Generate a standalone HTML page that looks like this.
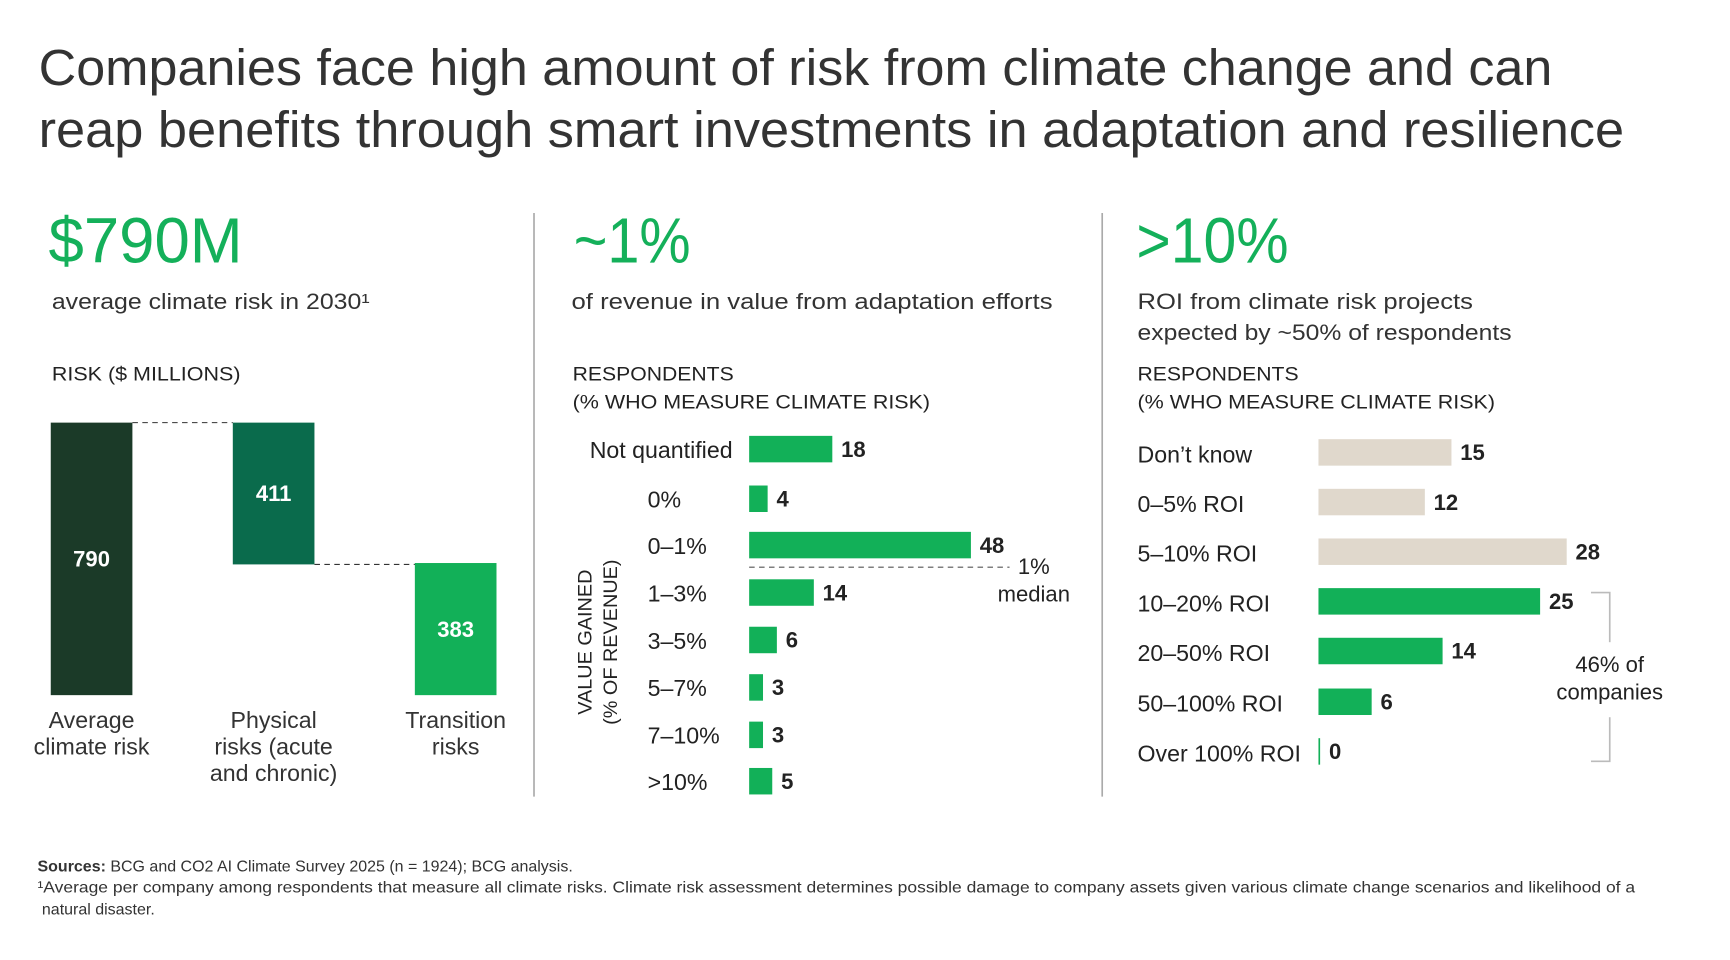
<!DOCTYPE html>
<html><head><meta charset="utf-8"><style>
html,body{margin:0;padding:0;background:#fff;}
svg{display:block;font-family:"Liberation Sans",sans-serif;}
</style></head><body>
<svg id="chart" width="1730" height="960" viewBox="0 0 1568 870" xmlns="http://www.w3.org/2000/svg">
<rect width="1568" height="870" fill="#fff"/>
<g fill="#333" font-size="46">
<text x="35" y="77" textLength="1372" lengthAdjust="spacingAndGlyphs">Companies face high amount of risk from climate change and can</text>
<text x="35" y="133" textLength="1437" lengthAdjust="spacingAndGlyphs">reap benefits through smart investments in adaptation and resilience</text>
</g>
<line x1="484" y1="193" x2="484" y2="722" stroke="#aaa" stroke-width="1.5"/>
<line x1="999" y1="193" x2="999" y2="722" stroke="#aaa" stroke-width="1.5"/>

<g>
<text x="44" y="238" font-size="58" fill="#14b05a" textLength="176" lengthAdjust="spacingAndGlyphs">$790M</text>
<text x="47" y="280" font-size="20" fill="#333" textLength="288" lengthAdjust="spacingAndGlyphs">average climate risk in 2030¹</text>
<text x="47" y="345" font-size="18" fill="#222" textLength="171" lengthAdjust="spacingAndGlyphs">RISK ($ MILLIONS)</text>
</g>
<g>
<text x="520" y="238" font-size="58" fill="#14b05a" textLength="106" lengthAdjust="spacingAndGlyphs">~1%</text>
<text x="518" y="280" font-size="20" fill="#333" textLength="436" lengthAdjust="spacingAndGlyphs">of revenue in value from adaptation efforts</text>
<text x="519" y="345" font-size="18" fill="#222" textLength="146" lengthAdjust="spacingAndGlyphs">RESPONDENTS</text>
<text x="519" y="370" font-size="18" fill="#222" textLength="324" lengthAdjust="spacingAndGlyphs">(% WHO MEASURE CLIMATE RISK)</text>
</g>
<g>
<text x="1030" y="238" font-size="58" fill="#14b05a" textLength="138" lengthAdjust="spacingAndGlyphs">&gt;10%</text>
<text x="1031" y="280" font-size="20" fill="#333" textLength="304" lengthAdjust="spacingAndGlyphs">ROI from climate risk projects</text>
<text x="1031" y="308" font-size="20" fill="#333" textLength="339" lengthAdjust="spacingAndGlyphs">expected by ~50% of respondents</text>
<text x="1031" y="345" font-size="18" fill="#222" textLength="146" lengthAdjust="spacingAndGlyphs">RESPONDENTS</text>
<text x="1031" y="370" font-size="18" fill="#222" textLength="324" lengthAdjust="spacingAndGlyphs">(% WHO MEASURE CLIMATE RISK)</text>
</g>
<g id="wf"></g>
<g id="mid"></g>
<g id="roi"></g>
<g font-size="18" fill="#222">
<text transform="translate(536,582) rotate(-90)" text-anchor="middle">VALUE GAINED</text>
<text transform="translate(559,582) rotate(-90)" text-anchor="middle">(% OF REVENUE)</text>
</g>
<g font-size="14.5" fill="#333">
<text x="34" y="790"><tspan font-weight="bold">Sources:</tspan> BCG and CO2 AI Climate Survey 2025 (n = 1924); BCG analysis.</text>
<text x="34" y="809" textLength="1448" lengthAdjust="spacingAndGlyphs">¹Average per company among respondents that measure all climate risks. Climate risk assessment determines possible damage to company assets given various climate change scenarios and likelihood of a</text>
<text x="38" y="829">natural disaster.</text>
</g>
<script>
const NS="http://www.w3.org/2000/svg";
function mk(p,t,a,txt){const e=document.createElementNS(NS,t);for(const k in a)e.setAttribute(k,a[k]);if(txt!==undefined)e.textContent=txt;p.appendChild(e);return e;}

// Waterfall data
const wfCategories=[["Average","climate risk"],["Physical","risks (acute","and chronic)"],["Transition","risks"]];
const wfValues=[790,411,383];
const wfColors=["#1b3a28","#0a6b4c","#12b058"];
const wfY=v=>630-v*(247/790);
const wfX=[46,211,376], wfW=74;
const wf=document.getElementById('wf');
let base=[0,wfValues[0]-wfValues[1],0];
for(let i=0;i<3;i++){
  const top=i==0?wfValues[0]:(i==1?wfValues[0]:wfValues[2]);
  const bot=i==1?wfValues[0]-wfValues[1]:0;
  const r=mk(wf,'rect',{x:wfX[i],y:wfY(top),width:wfW,height:wfY(bot)-wfY(top),fill:wfColors[i]});
  
  
  const t=mk(wf,'text',{x:wfX[i]+wfW/2,y:(wfY(top)+wfY(bot))/2+7,'text-anchor':'middle','font-size':20,'font-weight':'bold',fill:'#fff'},wfValues[i]);
  
  
  wfCategories[i].forEach((s,j)=>{const l=mk(wf,'text',{x:wfX[i]+wfW/2,y:660+j*24,'text-anchor':'middle','font-size':21,fill:'#333'},s);
    
    });
}
const d1=mk(wf,'line',{x1:120,y1:wfY(wfValues[0]),x2:211,y2:wfY(wfValues[0]),stroke:'#333','stroke-dasharray':'5,4'});


const d2=mk(wf,'line',{x1:285,y1:wfY(wfValues[0]-wfValues[1]),x2:376,y2:wfY(wfValues[0]-wfValues[1]),stroke:'#333','stroke-dasharray':'5,4'});



// Middle chart
const midCategories=["Not quantified","0%","0–1%","1–3%","3–5%","5–7%","7–10%",">10%"];
const midValues=[18,4,48,14,6,3,3,5];
const midRowY=[407,452,494,537,580,623,666,708];
const midX=v=>679+v*(201/48);
const mid=document.getElementById('mid');
midCategories.forEach((c,i)=>{
  const y=midRowY[i];
  const l=mk(mid,'text',{x:i==0?664:587,y:y+8,'text-anchor':i==0?'end':'start','font-size':21,fill:'#222'},c);
  
  
  const r=mk(mid,'rect',{x:679,y:y-12,width:midX(midValues[i])-679,height:24,fill:'#12b058'});
  
  
  const t=mk(mid,'text',{x:midX(midValues[i])+8,y:y+7,'font-size':20,'font-weight':'bold',fill:'#222'},midValues[i]);
  
  
});
const med=mk(mid,'line',{x1:679,y1:514,x2:915,y2:514,stroke:'#555','stroke-dasharray':'5,4'});


const m1=mk(mid,'text',{x:937,y:520,'text-anchor':'middle','font-size':20,fill:'#222'},'1%');


const m2=mk(mid,'text',{x:937,y:545,'text-anchor':'middle','font-size':20,fill:'#222'},'median');



// ROI chart
const roiCategories=["Don’t know","0–5% ROI","5–10% ROI","10–20% ROI","20–50% ROI","50–100% ROI","Over 100% ROI"];
const roiValues=[15,12,28,25,14,6,0];
const roiRowY=[410,455,500,545,590,636,681];
const roiX=v=>1195+v*(225/28);
const roi=document.getElementById('roi');
roiCategories.forEach((c,i)=>{
  const y=roiRowY[i];
  const l=mk(roi,'text',{x:1031,y:y+9,'font-size':21,fill:'#222'},c);
  
  
  const w=Math.max(roiX(roiValues[i])-1195,1.5);
  const r=mk(roi,'rect',{x:1195,y:y-12,width:w,height:24,fill:i<3?'#e0d8cc':'#12b058'});
  
  
  const t=mk(roi,'text',{x:1195+w+8,y:y+7,'font-size':20,'font-weight':'bold',fill:'#222'},roiValues[i]);
  
  
});
const br=mk(roi,'path',{d:'M1442 537 H1459 V690 H1442',fill:'none',stroke:'#bbb','stroke-width':1.5});


const bb=mk(roi,'rect',{x:1398,y:582,width:122,height:68,fill:'#fff'});


const b1=mk(roi,'text',{x:1459,y:609,'text-anchor':'middle','font-size':20,fill:'#222'},'46% of');


const b2=mk(roi,'text',{x:1459,y:634,'text-anchor':'middle','font-size':20,fill:'#222'},'companies');


</script>
</svg>
</body></html>
